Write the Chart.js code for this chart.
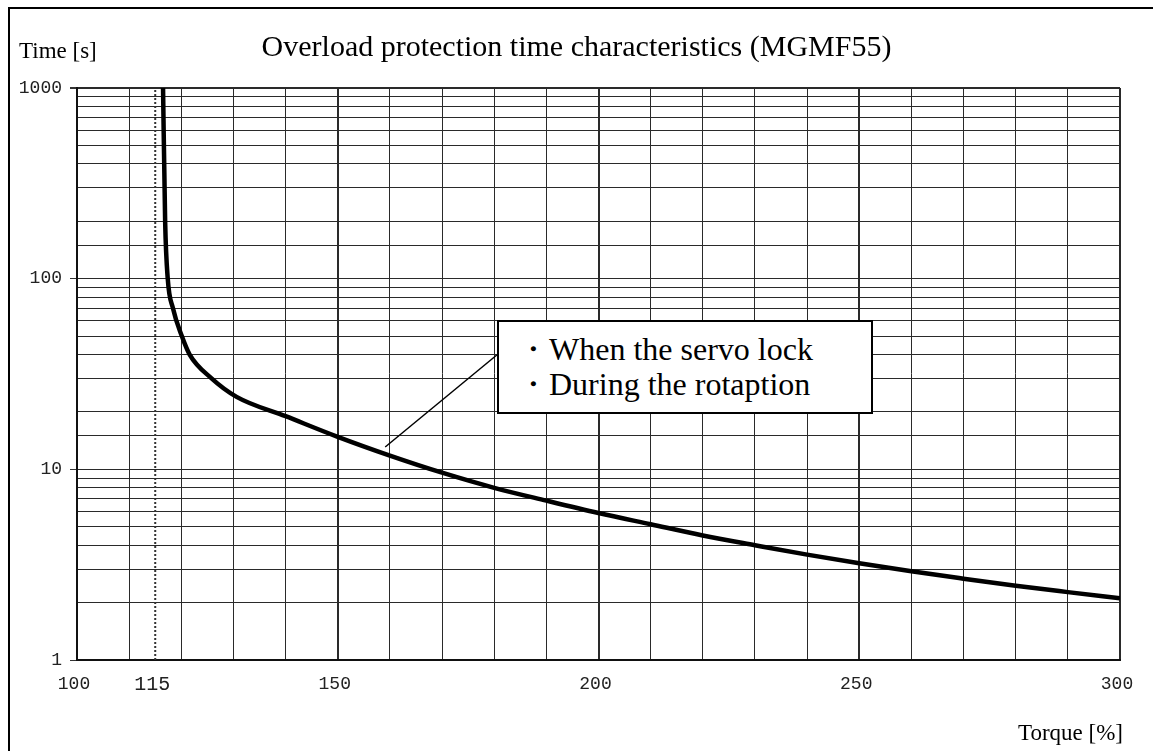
<!DOCTYPE html>
<html>
<head>
<meta charset="utf-8">
<script src="https://cdn.jsdelivr.net/npm/chart.js@4.4.1/dist/chart.umd.min.js"></script>
<style>
  html, body { margin: 0; padding: 0; background: #fff; }
  #wrap { position: relative; width: 1153px; height: 751px; overflow: hidden; }
  #frame { position: absolute; left: 8px; top: 7px; width: 1200px; height: 800px;
           border-left: 2px solid #000; border-top: 2px solid #000; }
  canvas { position: absolute; left: 0; top: 0; }
  .txt { position: absolute; font-family: "Liberation Serif", serif; color: #000; white-space: nowrap; line-height: 1; }
  #title { left: 0; width: 1153px; top: 31px; text-align: center; font-size: 30px; }
  #ylab { left: 19px; top: 39px; font-size: 23px; }
  #xlab { right: 30px; top: 721px; font-size: 23px; }
  #note { position: absolute; left: 497px; top: 320px; width: 372px; height: 80px;
          border: 2px solid #000; background: #fff; font-family: "Liberation Serif", serif;
          font-size: 32px; line-height: 35px; padding-top: 10px; box-sizing: content-box; }
  #note div { padding-left: 18px; }
</style>
</head>
<body>
<div id="wrap">
  <div id="frame"></div>
  <canvas id="chart" width="1153" height="751"></canvas>
  <div class="txt" id="title">Overload protection time characteristics (MGMF55)</div>
  <div class="txt" id="ylab">Time [s]</div>
  <div class="txt" id="xlab">Torque [%]</div>
  <div id="note"><div>・When the servo lock</div><div>・During the rotaption</div></div>
</div>
<script>
// values
const curveTorque = [116.5, 116.9, 117.4, 118.4, 120.1, 121.6, 125.8, 130.6, 140, 150, 160, 170, 180, 190, 200, 210, 220, 230, 240, 250, 260, 270, 280, 290, 300];
const curveTime = [1000, 200, 100, 70, 50, 40, 30, 24.0, 19.0, 14.8, 11.8, 9.6, 8.0, 6.85, 5.9, 5.15, 4.5, 4.0, 3.57, 3.22, 2.92, 2.67, 2.45, 2.27, 2.11];

const limitTorque = [115, 115];
const limitTime = [1, 1000];

const leaderTorque = [159.1, 180.5];
const leaderTime = [13.1, 39.8];

const xGridValues = [100, 110, 115, 120, 130, 140, 150, 160, 170, 180, 190, 200, 210, 220, 230, 240, 250, 260, 270, 280, 290, 300];
const xLabels = [100, 115, 150, 200, 250, 300];
const xMajor = [150, 200, 250];
const yLabels = [1, 10, 100, 1000];

const toPoints = (xs, ys) => xs.map((x, i) => ({ x: x, y: ys[i] }));
const tickFont = { family: 'Liberation Mono', size: 18 };
const gridColor = '#2a2a2a';

const ctx = document.getElementById('chart').getContext('2d');
new Chart(ctx, {
    type: 'line',
    data: {
        datasets: [
            {
                data: toPoints(curveTorque, curveTime),
                borderColor: '#000',
                borderWidth: 4.5,
                pointRadius: 0,
                cubicInterpolationMode: 'monotone',
                fill: false
            },
            {
                data: toPoints(limitTorque, limitTime),
                borderColor: '#333',
                borderWidth: 2,
                borderDash: [2, 2],
                pointRadius: 0,
                fill: false
            },
            {
                data: toPoints(leaderTorque, leaderTime),
                borderColor: '#000',
                borderWidth: 1.5,
                pointRadius: 0,
                fill: false
            }
        ]
    },
    options: {
        responsive: false,
        animation: false,
        devicePixelRatio: 1,
        layout: { padding: { left: 0, right: 33, top: 88, bottom: 0 } },
        plugins: { legend: { display: false }, tooltip: { enabled: false }, title: { display: false } },
        scales: {
            x: {
                type: 'linear',
                min: 100,
                max: 300,
                afterBuildTicks: s => { s.ticks = xGridValues.map(v => ({ value: v })); },
                afterFit: s => { s.height = 91; },
                ticks: {
                    autoSkip: false,
                    maxRotation: 0,
                    padding: 13,
                    labelOffset: -3,
                    color: '#222',
                    callback: v => xLabels.includes(v) ? String(v) : '',
                    font: c => (c.tick && c.tick.value === 115) ? { family: 'Liberation Mono', size: 20 } : tickFont
                },
                grid: {
                    drawTicks: false,
                    color: c => (c.tick && c.tick.value === 115) ? 'rgba(0,0,0,0)' : gridColor,
                    lineWidth: c => {
                        const v = c.tick ? c.tick.value : null;
                        return (xMajor.includes(v) || v === 300) ? 2 : 1;
                    }
                },
                border: { color: '#111', width: 2 }
            },
            y: {
                type: 'logarithmic',
                min: 1,
                max: 1000,
                afterFit: s => { s.width = 77; },
                ticks: {
                    autoSkip: false,
                    padding: 8,
                    color: '#222',
                    font: tickFont,
                    callback: v => yLabels.includes(v) ? String(v) : ''
                },
                grid: {
                    tickLength: 7,
                    color: gridColor,
                    tickColor: c => (c.tick && yLabels.includes(c.tick.value)) ? '#333' : 'rgba(0,0,0,0)',
                    lineWidth: c => (c.tick && c.tick.value === 1000) ? 2 : 1
                },
                border: { color: '#111', width: 2 }
            }
        }
    }
});
</script>
</body>
</html>
